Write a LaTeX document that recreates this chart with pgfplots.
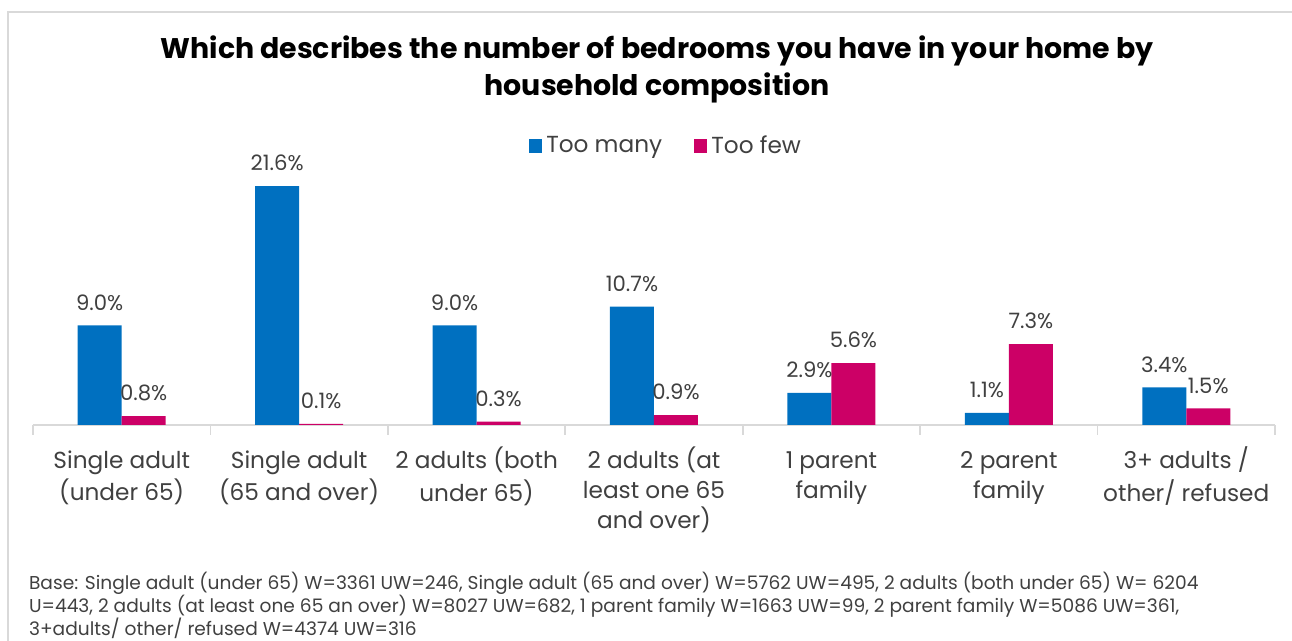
\documentclass[border=0pt]{standalone}
\usepackage{pgfplots}
\pgfplotsset{compat=1.18}
\usepackage{fontspec}
\setmainfont{Poppins}
\definecolor{barblue}{HTML}{0070C0}
\definecolor{barpink}{HTML}{CC0066}
\definecolor{labgray}{HTML}{404040}
\definecolor{linegray}{HTML}{D9D9D9}

\begin{document}
\begin{tikzpicture}
\useasboundingbox (0,0) rectangle (646pt,320.5pt);
\draw[linegray, line width=0.8pt] (4pt,-2pt) -- (4pt,314.5pt) -- (650pt,314.5pt);

\node[align=center, font=\fontsize{14.2}{18.5}\selectfont\bfseries] at (328.5pt,286pt)
  {Which describes the number of bedrooms you have in your home by\\household composition};

\begin{axis}[
    at={(16.5pt,108pt)}, anchor=south west,
    scale only axis,
    width=621pt, height=121.7pt,
    ybar=0pt,
    bar width=22pt,
    xmin=-0.5, xmax=6.5,
    ymin=0, ymax=22,
    axis x line*=bottom,
    axis y line=none,
    x axis line style={linegray, line width=0.8pt, -},
    xtick={-0.5,0.5,...,6.5},
    x tick label as interval,
    xticklabels={{\strut Single adult\\(under 65)},{\strut Single adult\\(65 and over)},{\strut 2 adults (both\\under 65)},{\strut 2 adults (at\\least one 65\\and over)},{\strut 1 parent\\family},{\strut 2 parent\\family},{\strut 3+ adults /\\other/ refused}},
    xticklabel style={align=center, anchor=north, text=labgray, font=\fontsize{11.6}{15}\selectfont, yshift=-2.5pt},
    tick align=outside,
    major tick length=5pt,
    x tick style={linegray, line width=0.8pt},
    ytick=\empty,
    nodes near coords={\pgfmathprintnumber[fixed,fixed zerofill,precision=1]{\pgfplotspointmeta}\%},
    every node near coord/.append style={text=labgray, font=\fontsize{10.6}{12}\selectfont, yshift=4pt},
    /pgf/number format/assume math mode=true,
    legend style={draw=none, at={(317pt,139.5pt)}, anchor=center, legend columns=2,
      font=\fontsize{11.6}{13}\selectfont, text=labgray,
      /tikz/every even column/.append style={column sep=14pt}},
    legend image code/.code={\fill[#1] (0pt,-3.3pt) rectangle (6.6pt,3.3pt);},
    clip=false,
]
\addplot[fill=barblue, draw=none] coordinates {
    (0,9.0) (1,21.6) (2,9.0) (3,10.7) (4,2.9) (5,1.1) (6,3.4)
};
\addplot[fill=barpink, draw=none] coordinates {
    (0,0.8) (1,0.1) (2,0.3) (3,0.9) (4,5.6) (5,7.3) (6,1.5)
};
\legend{Too many, Too few}
\end{axis}

\node[anchor=north west, align=left, text=labgray, font=\fontsize{9.3}{11.4}\selectfont] at (11pt,38pt)
  {Base: Single adult (under 65) W=3361 UW=246, Single adult (65 and over) W=5762 UW=495, 2 adults (both under 65) W= 6204\\
   U=443, 2 adults (at least one 65 an over) W=8027 UW=682, 1 parent family W=1663 UW=99, 2 parent family W=5086 UW=361,\\
   3+adults/ other/ refused W=4374 UW=316};
\end{tikzpicture}
\end{document}
